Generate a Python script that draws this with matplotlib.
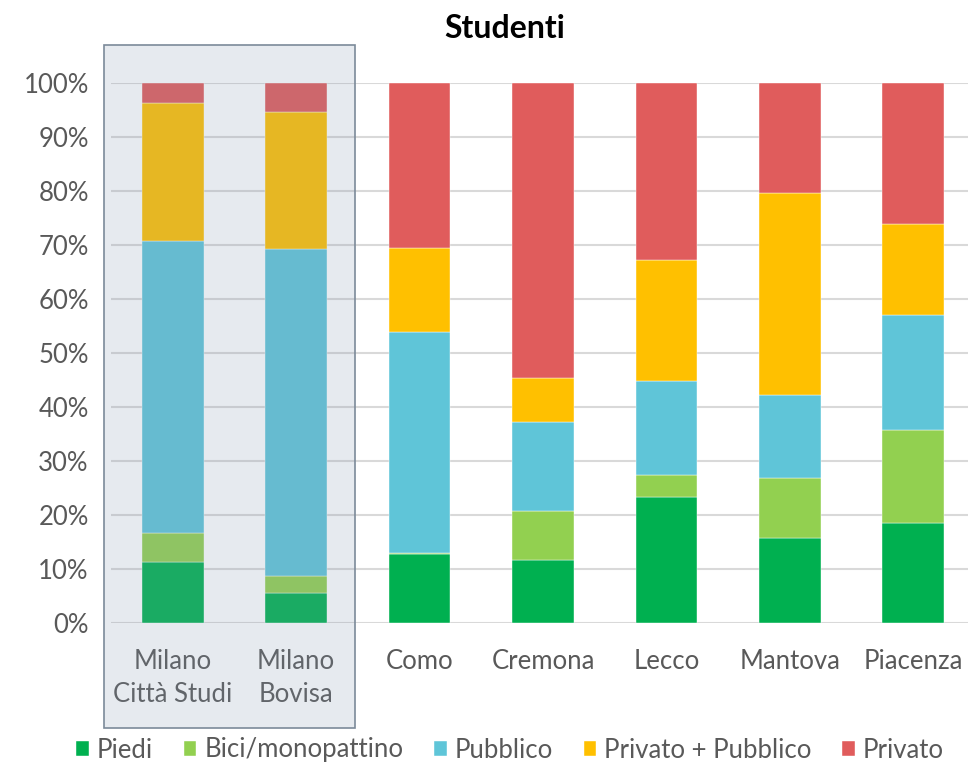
import matplotlib
matplotlib.use("Agg")
import matplotlib.pyplot as plt
import numpy as np
from matplotlib.patches import Rectangle
from matplotlib.ticker import PercentFormatter

plt.rcParams['font.family'] = ['Lato', 'DejaVu Sans']

# data (percent of students per mode)
sedi = ["Milano\nCittà Studi", "Milano\nBovisa", "Como", "Cremona", "Lecco", "Mantova", "Piacenza"]
piedi = [11.3, 5.5, 12.7, 11.6, 23.4, 15.8, 18.5]
bici = [5.3, 3.2, 0.3, 9.2, 4.1, 11.1, 17.3]
pubblico = [54.1, 60.6, 40.9, 16.5, 17.3, 15.4, 21.3]
priv_pubb = [25.6, 25.3, 15.6, 8.1, 22.5, 37.4, 16.7]
privato = [3.7, 5.4, 30.5, 54.6, 32.7, 20.3, 26.2]

serie = [("Piedi", piedi, "#00B050"),
         ("Bici/monopattino", bici, "#92D050"),
         ("Pubblico", pubblico, "#5FC5D8"),
         ("Privato + Pubblico", priv_pubb, "#FFC000"),
         ("Privato", privato, "#E05C5C")]

text_col = "#595959"

fig = plt.figure(figsize=(9.68, 7.64), dpi=100)
ax = fig.add_axes([111 / 968, 1 - 623 / 764, 864 / 968, 540 / 764])

x = np.arange(len(sedi))
bottom = np.zeros(len(sedi))
for nome, vals, col in serie:
    v = np.array(vals) / 100.0
    ax.bar(x, v, width=0.5, bottom=bottom, color=col, label=nome, zorder=3,
           edgecolor="white", linewidth=0.3)
    bottom += v

ax.set_xlim(-0.5, 6.5)
ax.set_ylim(0, 1)
ax.set_yticks(np.arange(0, 1.01, 0.1))
ax.yaxis.set_major_formatter(PercentFormatter(1.0, decimals=0))
ax.grid(axis="y", color="#D9D9D9", linewidth=1.5, zorder=0)
ax.set_axisbelow(True)
for s in ax.spines.values():
    s.set_visible(False)
ax.tick_params(length=0, labelsize=18.5, colors=text_col)
ax.tick_params(axis="y", pad=16)
ax.tick_params(axis="x", pad=19)
ax.set_xticks(x)
ax.set_xticklabels(sedi, linespacing=1.4)

fig.text(505 / 968, 1 - 28 / 764, "Studenti", ha="center", va="center",
         fontsize=23, fontweight="bold", color="black")

# grey box over the two Milano campuses
box = Rectangle((104 / 968, 1 - 728 / 764), 251 / 968, 683 / 764,
                transform=fig.transFigure, facecolor="#8497B0", alpha=0.2,
                edgecolor="none", zorder=10)
fig.add_artist(box)
box_edge = Rectangle((104 / 968, 1 - 728 / 764), 251 / 968, 683 / 764,
                     transform=fig.transFigure, facecolor="none",
                     edgecolor="#7C8A99", linewidth=1.2, zorder=11)
fig.add_artist(box_edge)

leg = fig.legend(loc="center", bbox_to_anchor=(510 / 968, 1 - 750 / 764), ncol=5,
                 frameon=False, fontsize=18.5, handlelength=0.5, handleheight=0.5,
                 handletextpad=0.3, columnspacing=1.2, borderpad=0)
for t in leg.get_texts():
    t.set_color(text_col)

fig.savefig("out.png", dpi=100)
